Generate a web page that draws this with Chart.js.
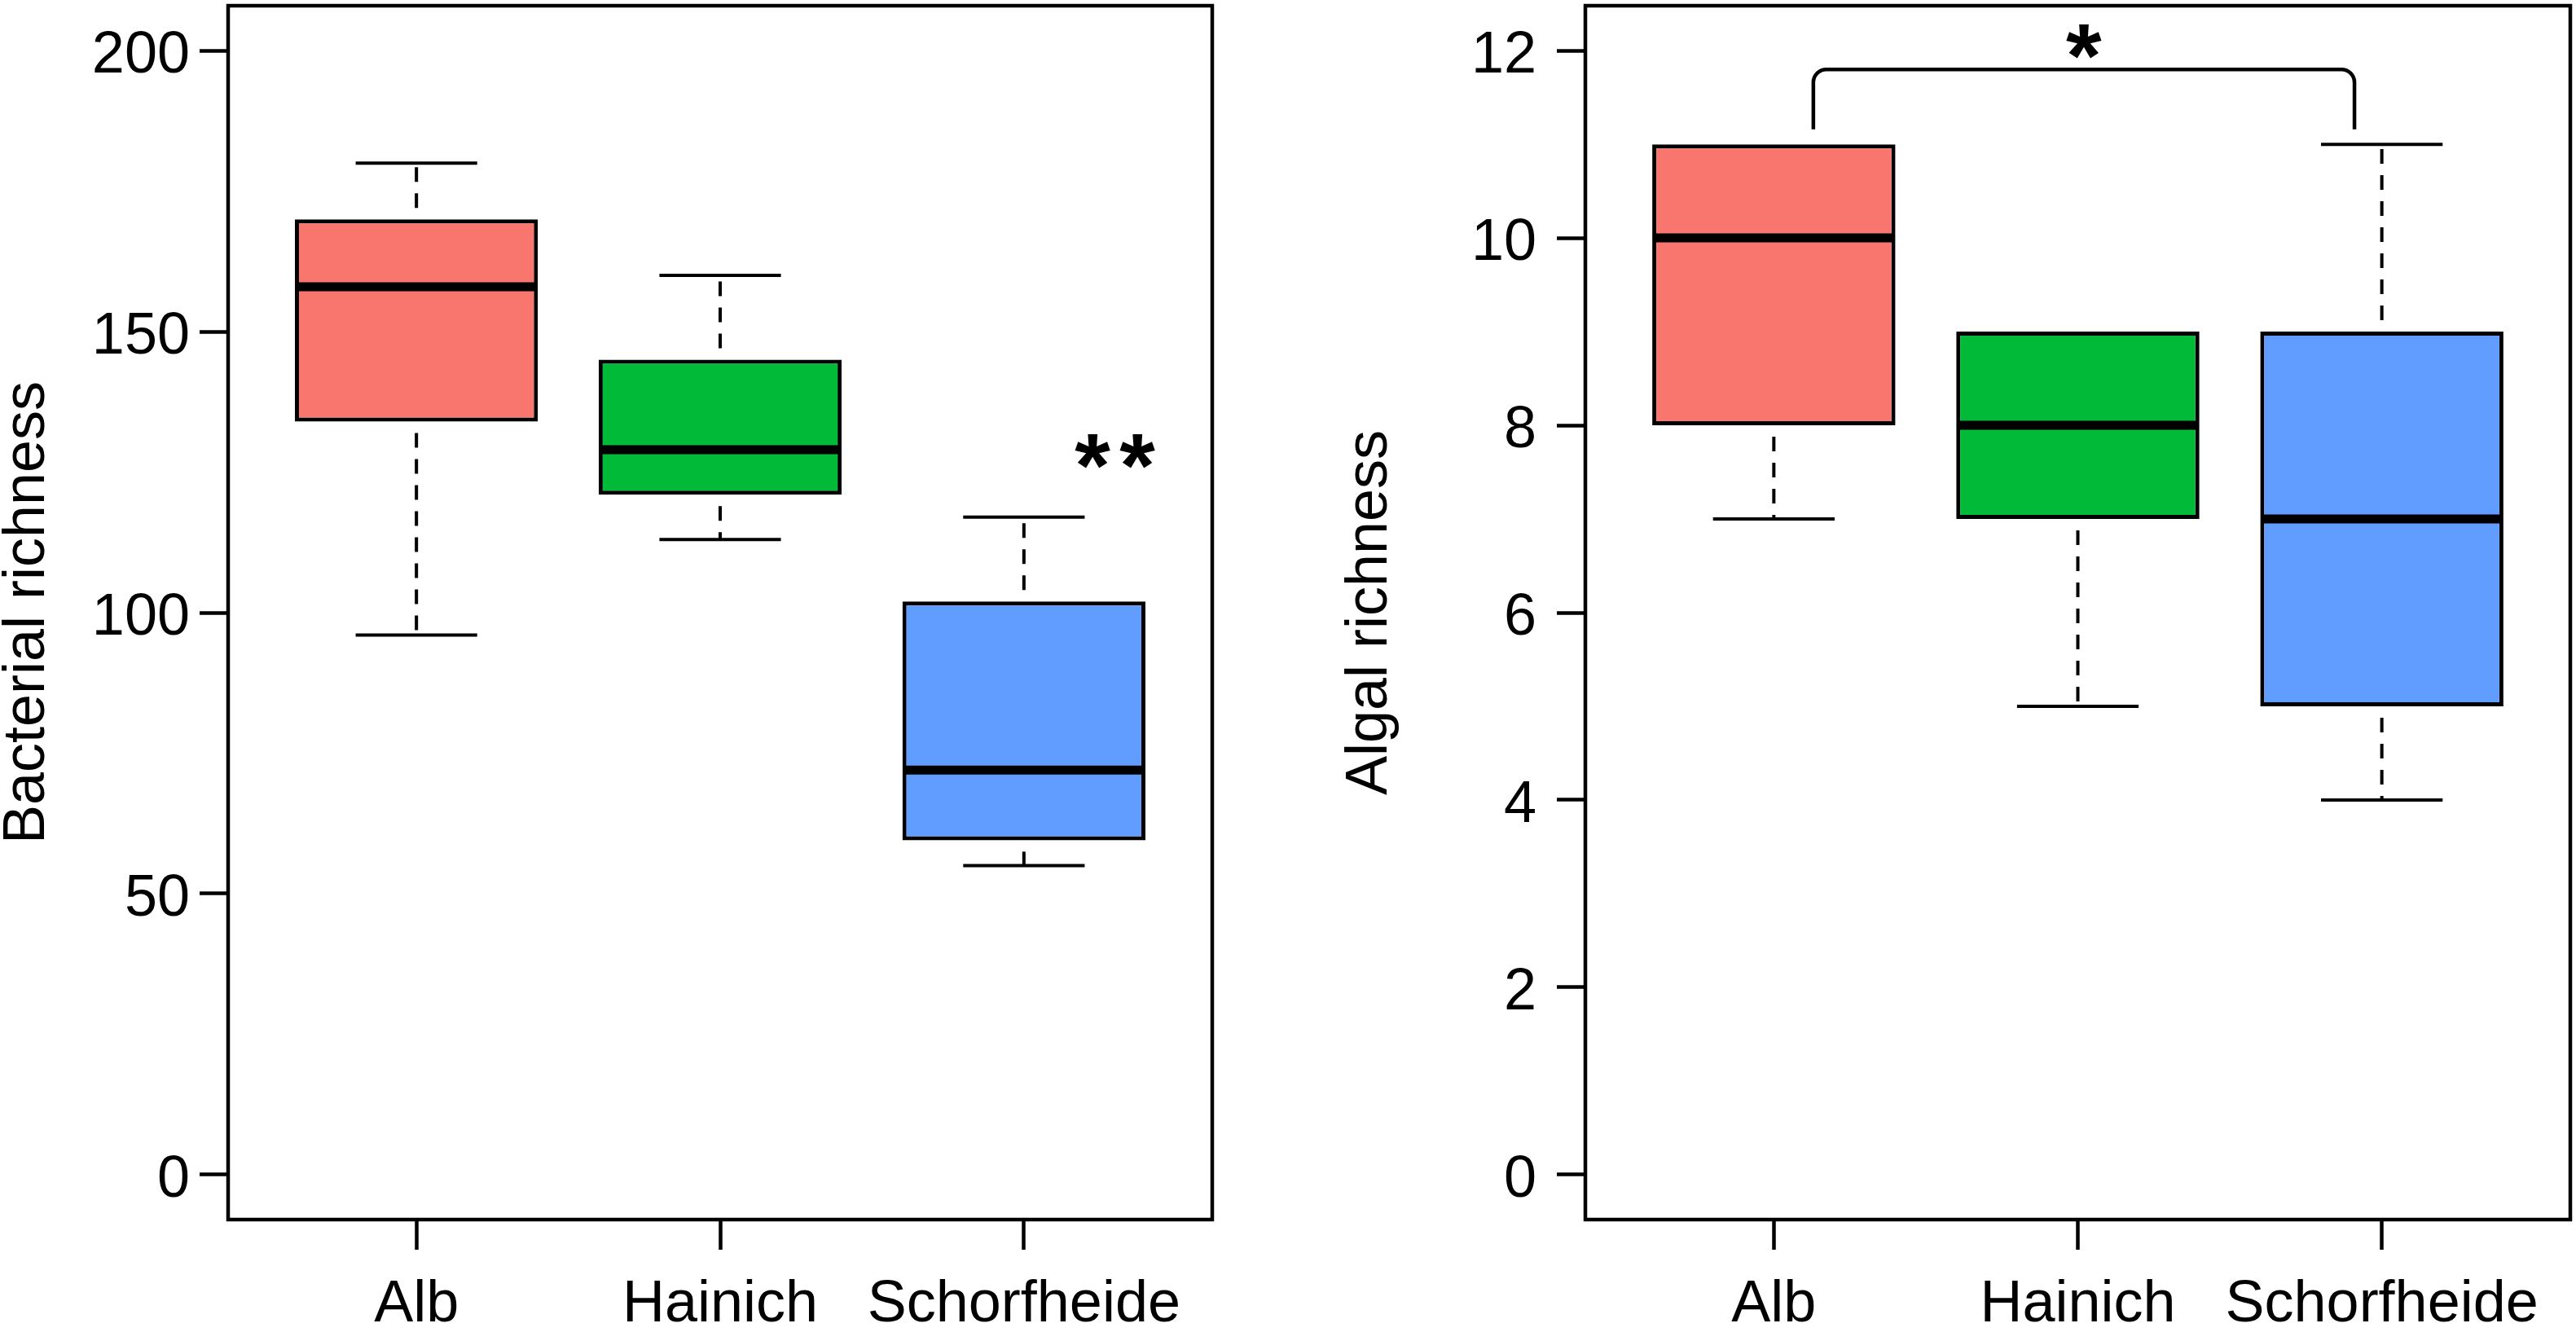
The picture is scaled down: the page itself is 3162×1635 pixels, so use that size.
<!DOCTYPE html>
<html>
<head>
<meta charset="utf-8">
<script src="https://cdn.jsdelivr.net/npm/chart.js@4.4.1/dist/chart.umd.min.js"></script>
<style>
  html, body { margin: 0; padding: 0; background: #fff; }
  #wrap { position: relative; width: 3162px; height: 1635px; }
  .panel { position: absolute; top: 0; width: 1581px; height: 1635px; }
</style>
</head>
<body>
<div id="wrap">
  <div class="panel" style="left:0"><canvas id="bact" width="1581" height="1635"></canvas></div>
  <div class="panel" style="left:1581px"><canvas id="algae" width="1581" height="1635"></canvas></div>
</div>
<script>
'use strict';

// sites and fill colours
const sites      = ['Alb', 'Hainich', 'Schorfheide'];
const siteColors = ['#F8766D', '#00BA38', '#619CFF'];

// bacterial richness (five-number summaries)
const bactMin    = [96, 113, 55];
const bactQ1     = [134, 121, 59.5];
const bactMedian = [158, 129, 72];
const bactQ3     = [170, 145, 102];
const bactMax    = [180, 160, 117];
const bactTicks  = [0, 50, 100, 150, 200];

// algal richness
const algaeMin    = [7, 5, 4];
const algaeQ1     = [8, 7, 5];
const algaeMedian = [10, 8, 7];
const algaeQ3     = [11, 9, 9];
const algaeMax    = [11, 9, 11];
const algaeTicks  = [0, 2, 4, 6, 8, 10, 12];

// significance marks: [x, y, text]
const bactStars  = [[3.30, 128.7, '**']];
const algaeStars = [[2.02, 12.1, '*']];
// bracket between Alb and Schorfheide: x from, x to, y of bar, y of ends
const algaeBracket = [1.13, 2.91, 11.8, 11.16];

const FONT = "'Liberation Sans', Arimo, Arial, sans-serif";
const BOX_W = 0.8;
const CAP_W = 0.4;

Chart.defaults.font.family = FONT;
Chart.defaults.color = '#000';

// medians, whiskers, frame and annotations, drawn through the chart scales
const boxPlot = {
  id: 'boxPlot',
  afterDatasetsDraw(chart, args, opts) {
    const { ctx, scales: { x, y } } = chart;
    const st = opts.stats;
    const unit = x.getPixelForValue(2) - x.getPixelForValue(1);
    ctx.save();
    ctx.strokeStyle = '#000';
    ctx.lineCap = 'butt';

    for (let i = 0; i < st.median.length; i++) {
      const cx = x.getPixelForValue(i + 1);

      // whiskers (dashed) and caps
      ctx.lineWidth = 4;
      [[st.q3[i], st.max[i]], [st.q1[i], st.min[i]]].forEach(([from, to]) => {
        if (from === to) return;   // whisker hidden in the box edge
        const y0 = y.getPixelForValue(from);
        const y1 = y.getPixelForValue(to);
        ctx.setLineDash([18, 14]);
        ctx.lineDashOffset = 18;
        ctx.beginPath();
        ctx.moveTo(cx, y0);
        ctx.lineTo(cx, y1);
        ctx.stroke();
        ctx.setLineDash([]);
        ctx.beginPath();
        ctx.moveTo(cx - unit * CAP_W / 2, y1);
        ctx.lineTo(cx + unit * CAP_W / 2, y1);
        ctx.stroke();
      });

      // median
      const ym = y.getPixelForValue(st.median[i]);
      ctx.lineWidth = 11;
      ctx.beginPath();
      ctx.moveTo(cx - unit * BOX_W / 2 + 1, ym);
      ctx.lineTo(cx + unit * BOX_W / 2 - 1, ym);
      ctx.stroke();
    }

    // bracket
    if (opts.bracket) {
      const [xa, xb, yb, ye] = opts.bracket;
      const px0 = x.getPixelForValue(xa), px1 = x.getPixelForValue(xb);
      const pyb = y.getPixelForValue(yb), pye = y.getPixelForValue(ye);
      const r = 16;
      ctx.lineWidth = 4.5;
      ctx.beginPath();
      ctx.moveTo(px0, pye);
      ctx.arcTo(px0, pyb, px0 + r, pyb, r);
      ctx.lineTo(px1 - r, pyb);
      ctx.arcTo(px1, pyb, px1, pye, r);
      ctx.lineTo(px1, pye);
      ctx.stroke();
    }

    // stars, centred on their ink
    ctx.fillStyle = '#000';
    ctx.font = 'bold 112px ' + FONT;
    ctx.textAlign = 'left';
    ctx.textBaseline = 'alphabetic';
    (opts.stars || []).forEach(([sx, sy, text]) => {
      const px = x.getPixelForValue(sx);
      const py = y.getPixelForValue(sy);
      const gap = 55;
      const n = text.length;
      for (let k = 0; k < n; k++) {
        const m = ctx.measureText(text[k]);
        const cxk = px + (k - (n - 1) / 2) * gap;
        const left = cxk - (m.actualBoundingBoxRight - m.actualBoundingBoxLeft) / 2 + m.actualBoundingBoxLeft;
        const base = py + (m.actualBoundingBoxAscent - m.actualBoundingBoxDescent) / 2;
        ctx.fillText(text[k], left, base);
      }
    });
    ctx.restore();
  },
  afterDraw(chart) {
    const { ctx, chartArea: a } = chart;
    ctx.save();
    ctx.strokeStyle = '#000';
    ctx.lineWidth = 4.5;
    ctx.strokeRect(a.left, a.top, a.right - a.left, a.bottom - a.top);
    ctx.restore();
  },
};

function makeBox(canvasId, cfg) {
  const canvas = document.getElementById(canvasId);
  const data = sites.map((s, i) => ({ x: i + 1, y: [cfg.q1[i], cfg.q3[i]] }));

  return new Chart(canvas, {
    type: 'bar',
    data: {
      datasets: [{
        data,
        backgroundColor: siteColors,
        borderColor: '#000',
        borderWidth: 5,
        borderSkipped: false,
        barPercentage: BOX_W,
        categoryPercentage: 1,
      }],
    },
    options: {
      responsive: false,
      animation: false,
      events: [],
      layout: { padding: cfg.padding },
      plugins: {
        legend: { display: false },
        tooltip: { enabled: false },
        boxPlot: { stats: cfg, stars: cfg.stars, bracket: cfg.bracket },
      },
      scales: {
        x: {
          type: 'linear',
          min: 0.38,
          max: 3.62,
          offset: false,
          bounds: 'data',
          afterBuildTicks: s => { s.ticks = sites.map((_, i) => ({ value: i + 1 })); },
          afterFit: s => {
            s.height = 138;
            s.paddingLeft = 0;
            s.paddingRight = 0;
          },
          border: { display: false },
          grid: { offset: false, drawOnChartArea: false, tickLength: 37, tickWidth: 4.5, tickColor: '#000' },
          ticks: {
            callback: v => sites[v - 1],
            font: { size: 72, lineHeight: 1 },
            color: '#000',
            padding: 32,
            maxRotation: 0,
            autoSkip: false,
          },
        },
        y: {
          min: cfg.yMin,
          max: cfg.yMax,
          bounds: 'data',
          afterBuildTicks: s => { s.ticks = cfg.ticks.map(v => ({ value: v })); },
          afterFit: s => {
            s.width = cfg.axisWidth;
            s.paddingTop = 0;
            s.paddingBottom = 0;
          },
          border: { display: false },
          grid: { drawOnChartArea: false, tickLength: 35, tickWidth: 4.5, tickColor: '#000' },
          ticks: {
            font: { size: 72 },
            color: '#000',
            padding: cfg.tickPad,
            labelOffset: 7,
            autoSkip: false,
          },
          title: {
            display: true,
            text: cfg.title,
            color: '#000',
            font: { size: 72, lineHeight: 1 },
            padding: { top: -2, bottom: 0 },
          },
        },
      },
    },
    plugins: [boxPlot],
  });
}

makeBox('bact', {
  min: bactMin, q1: bactQ1, median: bactMedian, q3: bactQ3, max: bactMax,
  ticks: bactTicks, yMin: -8, yMax: 208,
  title: 'Bacterial richness',
  stars: bactStars,
  padding: { left: 0, right: 93, top: 7, bottom: 0 },
  axisWidth: 280,
  tickPad: 12,
});

makeBox('algae', {
  min: algaeMin, q1: algaeQ1, median: algaeMedian, q3: algaeQ3, max: algaeMax,
  ticks: algaeTicks, yMin: -0.48, yMax: 12.48,
  title: 'Algal richness',
  stars: algaeStars,
  bracket: algaeBracket,
  padding: { left: 67, right: 7, top: 7, bottom: 0 },
  axisWidth: 298,
  tickPad: 25,
});
</script>
</body>
</html>
